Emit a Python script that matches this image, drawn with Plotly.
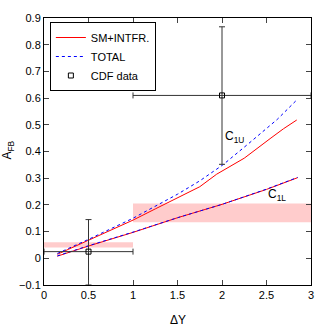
import plotly.graph_objects as go

# SM + interference curves (C1U upper, C1L lower)
x_u = [0.15, 0.5, 1.0, 1.25, 1.5, 1.65, 1.75, 1.94, 2.25, 2.54, 2.69, 2.84]
sm_u = [0.015, 0.068, 0.143, 0.185, 0.225, 0.252, 0.268, 0.315, 0.375, 0.448, 0.485, 0.518]
x_t = [0.15, 0.5, 1.0, 1.25, 1.5, 1.75, 2.01, 2.3, 2.62, 2.84]
tot_u = [0.018, 0.071, 0.150, 0.195, 0.240, 0.290, 0.350, 0.430, 0.520, 0.593]

x_l = [0.15, 0.5, 1.0, 1.5, 2.0, 2.5, 2.85]
sm_l = [0.008, 0.046, 0.097, 0.152, 0.202, 0.258, 0.302]
tot_l = [0.009, 0.047, 0.098, 0.152, 0.202, 0.259, 0.303]

# CDF data
cdf_x = [0.5, 2.0]
cdf_y = [0.025, 0.61]
cdf_xerr = [0.5, 1.0]
cdf_yerr_plus = [0.12, 0.257]
cdf_yerr_minus = [0.125, 0.258]

# shaded bands (x0, x1, y0, y1)
band_x0 = [0.0, 1.0]
band_x1 = [1.0, 3.0]
band_y0 = [0.04, 0.135]
band_y1 = [0.06, 0.205]

fig = go.Figure()

for i in range(len(band_x0)):
    fig.add_shape(type='rect', x0=band_x0[i], x1=band_x1[i], y0=band_y0[i], y1=band_y1[i],
                  fillcolor='#ffcccc', line_width=0, layer='below')

fig.add_trace(go.Scatter(x=x_u, y=sm_u, mode='lines', name='SM+INTFR.',
                         line=dict(color='red', width=1)))
fig.add_trace(go.Scatter(x=x_t, y=tot_u, mode='lines', name='TOTAL',
                         line=dict(color='blue', width=1, dash='dot')))
fig.add_trace(go.Scatter(x=x_l, y=sm_l, mode='lines', showlegend=False,
                         line=dict(color='red', width=1)))
fig.add_trace(go.Scatter(x=x_l, y=tot_l, mode='lines', showlegend=False,
                         line=dict(color='blue', width=1, dash='dot')))
fig.add_trace(go.Scatter(x=cdf_x, y=cdf_y, mode='markers', name='CDF data',
                         marker=dict(symbol='square-open', size=5, color='black',
                                     line=dict(width=1)),
                         error_x=dict(type='data', array=cdf_xerr, color='#333333',
                                      thickness=1, width=3),
                         error_y=dict(type='data', array=cdf_yerr_plus,
                                      arrayminus=cdf_yerr_minus, color='#333333',
                                      thickness=1, width=3)))

fig.add_annotation(x=2.01, y=0.456, text='C<sub>1U</sub>', showarrow=False,
                   xanchor='left', yanchor='middle', font=dict(size=12))
fig.add_annotation(x=2.49, y=0.237, text='C<sub>1L</sub>', showarrow=False,
                   xanchor='left', yanchor='middle', font=dict(size=12))
fig.add_annotation(x=-0.135, y=0.507, xref='paper', yref='paper', textangle=-90,
                   xanchor='center', yanchor='middle',
                   text='A<sub>FB</sub>', showarrow=False, font=dict(size=12))
fig.add_annotation(x=0.5, y=-0.13, xref='paper', yref='paper',
                   xanchor='center', yanchor='middle',
                   text='ΔY', showarrow=False, font=dict(size=12))

fig.update_xaxes(range=[0, 3], tickvals=[0, 0.5, 1, 1.5, 2, 2.5, 3],
                 ticktext=['0', '0.5', '1', '1.5', '2', '2.5', '3'],
                 ticks='inside', ticklen=5, showline=True, linecolor='black',
                 linewidth=1, mirror='ticks', showgrid=False, zeroline=False)
fig.update_yaxes(range=[-0.1, 0.9], dtick=0.1,
                 ticks='inside', ticklen=5, showline=True, linecolor='black',
                 linewidth=1, mirror='ticks', showgrid=False, zeroline=False)

fig.update_layout(
    width=327, height=327,
    margin=dict(l=44, r=16, t=15, b=42),
    plot_bgcolor='white', paper_bgcolor='white',
    font=dict(family='Liberation Sans Narrow, Liberation Sans, Arial', size=11, color='black'),
    legend=dict(x=0.022, y=0.985, xanchor='left', yanchor='top',
                bordercolor='black', borderwidth=1, bgcolor='white',
                font=dict(size=11), itemwidth=30, tracegroupgap=0),
)

# drop the default page margin so the figure sits at the window's corner
fig.write_html("out.html", config={'displayModeBar': False},
               post_script="document.body.style.margin='0';")
